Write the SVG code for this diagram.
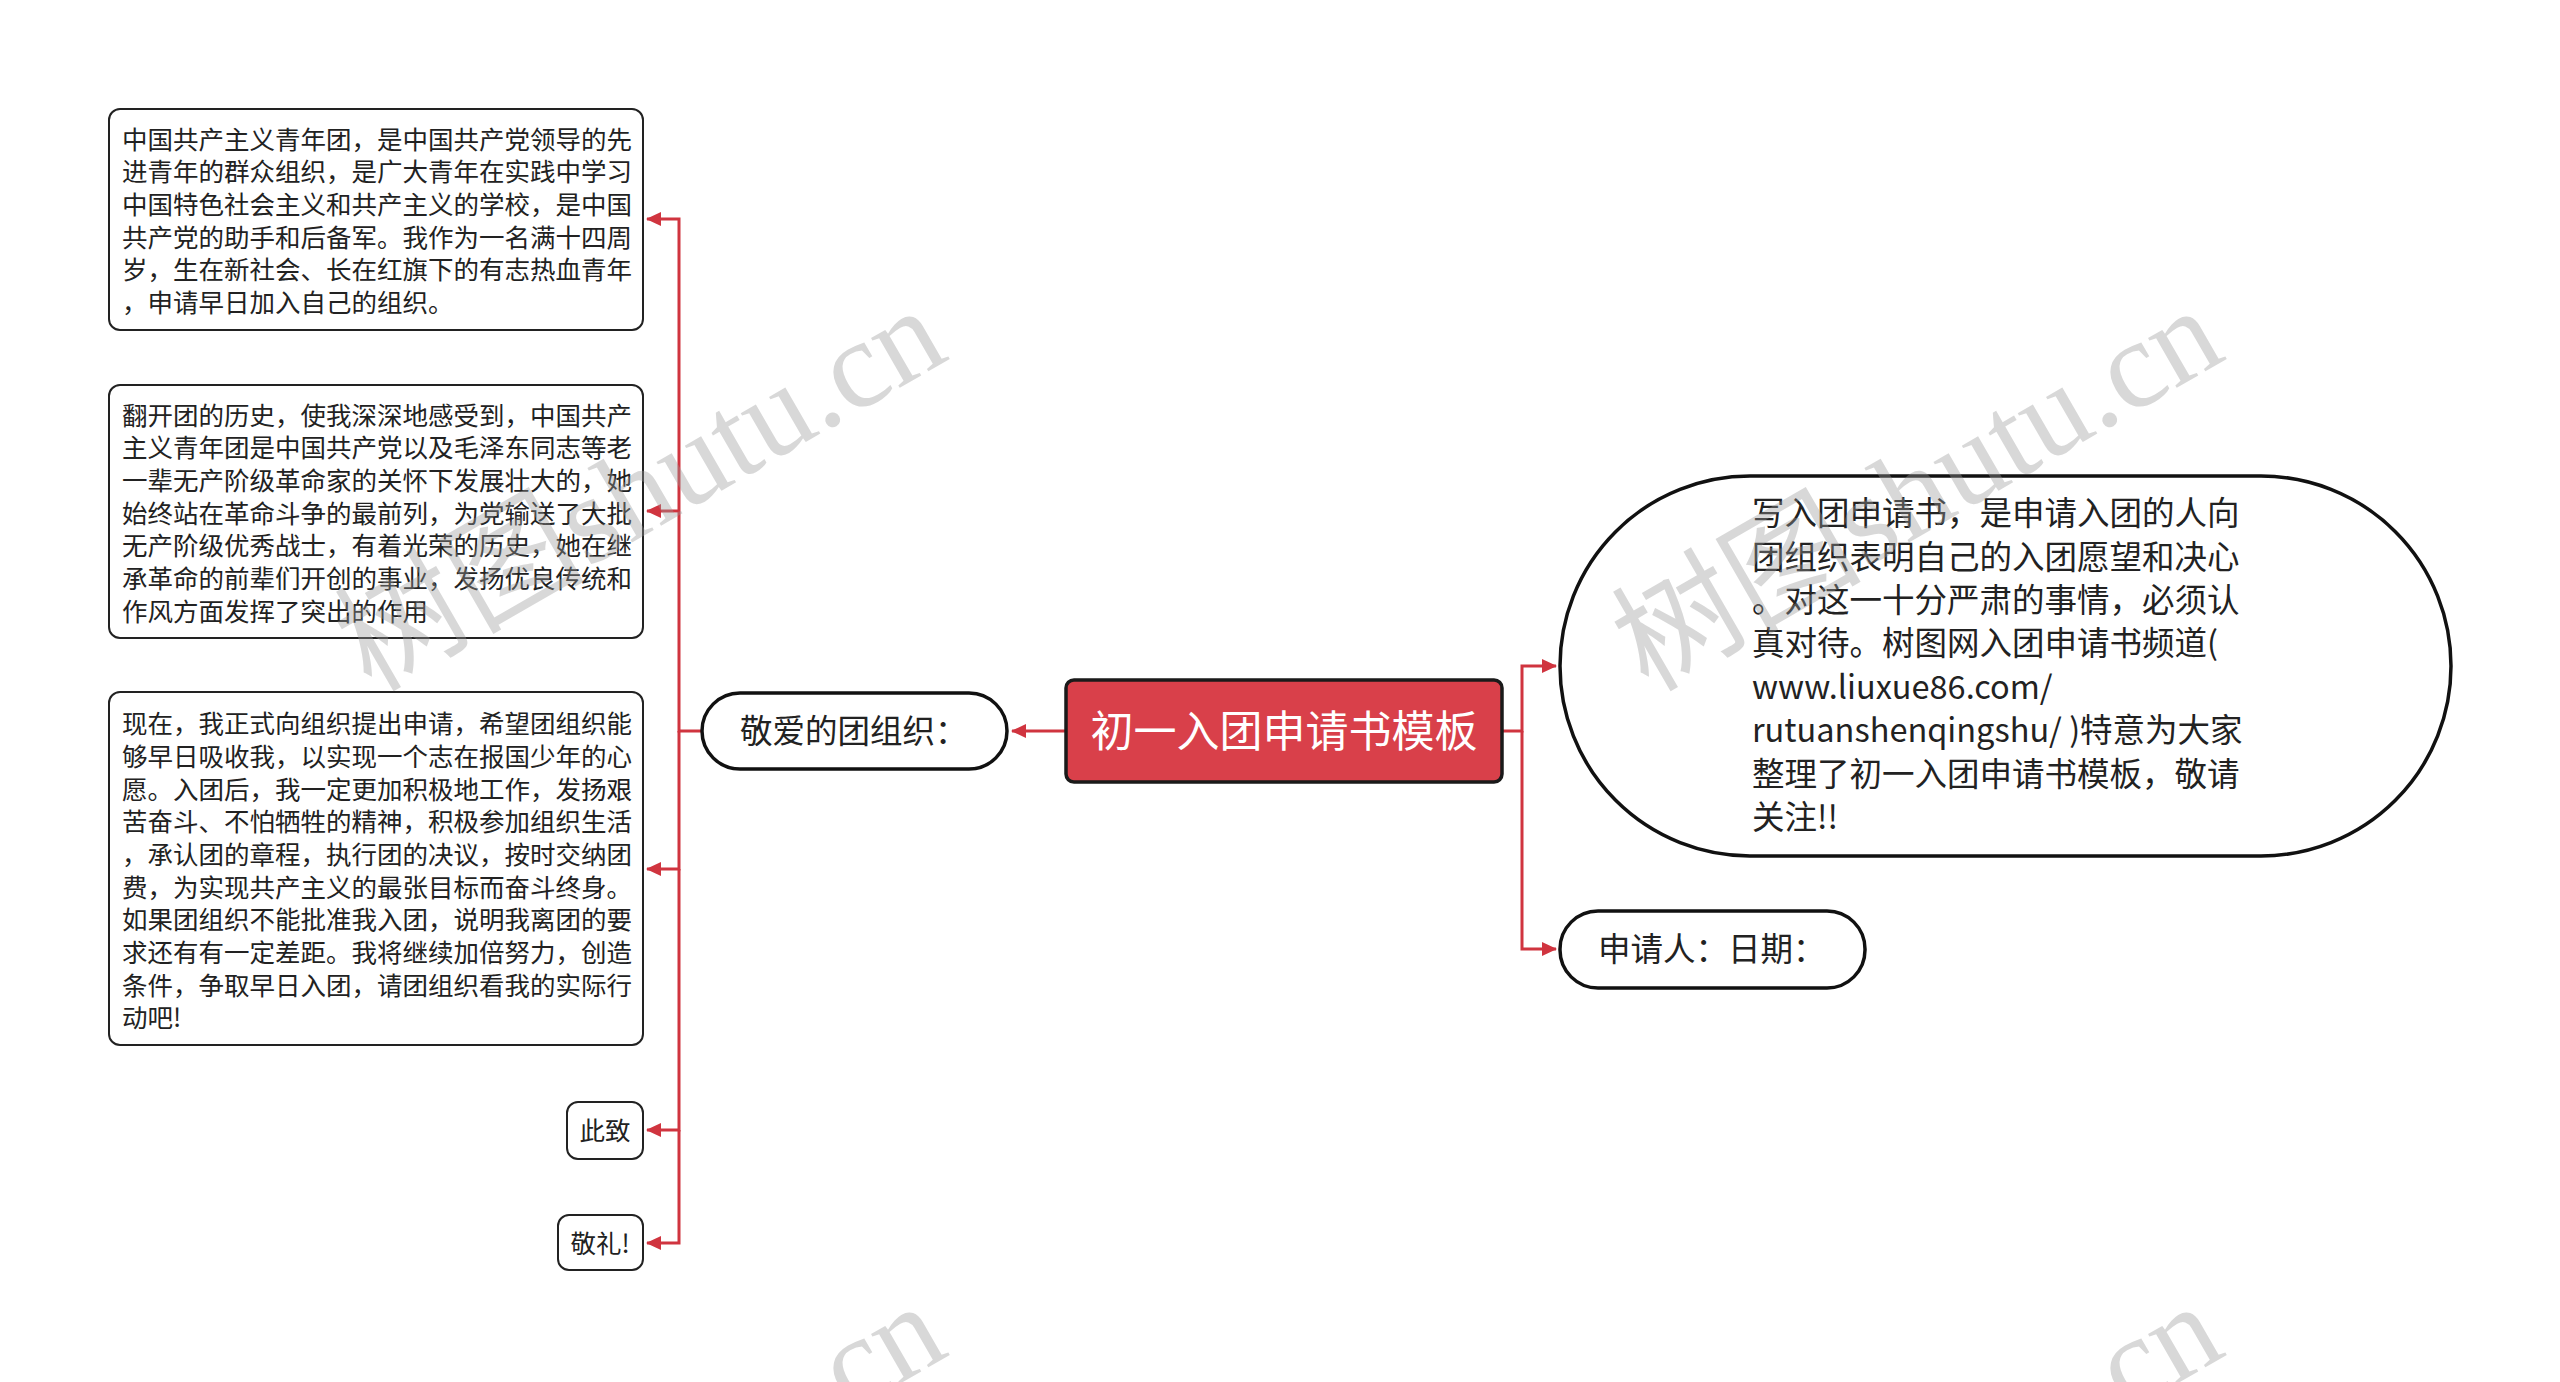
<svg xmlns="http://www.w3.org/2000/svg" width="2560" height="1382" viewBox="0 0 2560 1382">
<style>
.t{font-family:"Noto Sans CJK SC","Liberation Sans",sans-serif;fill:#222}
.sm{font-size:25.5px}
.md{font-size:32.5px}
.box{fill:#fff;stroke:#222;stroke-width:2}
.pill{fill:#fff;stroke:#111;stroke-width:3.5}
.con{fill:none;stroke:#d0343f;stroke-width:3}
.wm{font-family:"Liberation Serif","Noto Sans CJK SC",serif;font-size:125px;fill:#9a9a9a;opacity:0.38}
</style>
<defs>
<marker id="ah" markerUnits="userSpaceOnUse" markerWidth="16" markerHeight="14" refX="14" refY="7" orient="auto">
<path d="M0,0 L15,7 L0,14 Z" fill="#d0343f"/>
</marker>
</defs>
<rect width="2560" height="1382" fill="#fff"/>
<g id="connectors">
<path class="con" d="M1065,731 H1012" marker-end="url(#ah)"/>
<path class="con" d="M702,731 H679 V219 H647" marker-end="url(#ah)"/>
<path class="con" d="M679,511 H647" marker-end="url(#ah)"/>
<path class="con" d="M679,731 V869 H647" marker-end="url(#ah)"/>
<path class="con" d="M679,869 V1130 H647" marker-end="url(#ah)"/>
<path class="con" d="M679,1130 V1243 H647" marker-end="url(#ah)"/>
<path class="con" d="M1502,731 H1522 V666 H1556" marker-end="url(#ah)"/>
<path class="con" d="M1522,731 V949 H1556" marker-end="url(#ah)"/>
</g>
<g id="center">
<rect x="1066" y="680" width="436" height="102" rx="8" fill="#d9404a" stroke="#1a1a1a" stroke-width="3.5"/>
<text class="t" x="1284" y="747" font-size="43" text-anchor="middle" style="fill:#fff">初一入团申请书模板</text>
</g>
<g id="n-dear">
<rect class="pill" x="702" y="693" width="305" height="76" rx="38"/>
<text class="t md" x="740" y="743">敬爱的团组织：</text>
</g>
<g id="n-p1">
<rect class="box" x="109" y="109" width="534" height="221" rx="11"/>
<text class="t sm">
<tspan x="122" y="149">中国共产主义青年团，是中国共产党领导的先</tspan>
<tspan x="122" y="181">进青年的群众组织，是广大青年在实践中学习</tspan>
<tspan x="122" y="214">中国特色社会主义和共产主义的学校，是中国</tspan>
<tspan x="122" y="247">共产党的助手和后备军。我作为一名满十四周</tspan>
<tspan x="122" y="279">岁，生在新社会、长在红旗下的有志热血青年</tspan>
<tspan x="122" y="312">，申请早日加入自己的组织。</tspan>
</text>
</g>
<g id="n-p2">
<rect class="box" x="109" y="385" width="534" height="253" rx="11"/>
<text class="t sm">
<tspan x="122" y="425">翻开团的历史，使我深深地感受到，中国共产</tspan>
<tspan x="122" y="457">主义青年团是中国共产党以及毛泽东同志等老</tspan>
<tspan x="122" y="490">一辈无产阶级革命家的关怀下发展壮大的，她</tspan>
<tspan x="122" y="523">始终站在革命斗争的最前列，为党输送了大批</tspan>
<tspan x="122" y="555">无产阶级优秀战士，有着光荣的历史，她在继</tspan>
<tspan x="122" y="588">承革命的前辈们开创的事业，发扬优良传统和</tspan>
<tspan x="122" y="621">作风方面发挥了突出的作用</tspan>
</text>
</g>
<g id="n-p3">
<rect class="box" x="109" y="692" width="534" height="353" rx="11"/>
<text class="t sm">
<tspan x="122" y="733">现在，我正式向组织提出申请，希望团组织能</tspan>
<tspan x="122" y="766">够早日吸收我，以实现一个志在报国少年的心</tspan>
<tspan x="122" y="799">愿。入团后，我一定更加积极地工作，发扬艰</tspan>
<tspan x="122" y="831">苦奋斗、不怕牺牲的精神，积极参加组织生活</tspan>
<tspan x="122" y="864">，承认团的章程，执行团的决议，按时交纳团</tspan>
<tspan x="122" y="897">费，为实现共产主义的最张目标而奋斗终身。</tspan>
<tspan x="122" y="929">如果团组织不能批准我入团，说明我离团的要</tspan>
<tspan x="122" y="962">求还有有一定差距。我将继续加倍努力，创造</tspan>
<tspan x="122" y="995">条件，争取早日入团，请团组织看我的实际行</tspan>
<tspan x="122" y="1027">动吧!</tspan>
</text>
</g>
<g id="n-cizhi">
<rect class="box" x="567" y="1102" width="76" height="57" rx="11"/>
<text class="t sm" x="605" y="1140" text-anchor="middle">此致</text>
</g>
<g id="n-jingli">
<rect class="box" x="558" y="1215" width="85" height="55" rx="11"/>
<text class="t sm" x="600" y="1253" text-anchor="middle">敬礼!</text>
</g>
<g id="n-intro">
<rect class="pill" x="1560" y="476" width="891" height="380" rx="190"/>
<text class="t md">
<tspan x="1752" y="525">写入团申请书，是申请入团的人向</tspan>
<tspan x="1752" y="569">团组织表明自己的入团愿望和决心</tspan>
<tspan x="1752" y="612">。对这一十分严肃的事情，必须认</tspan>
<tspan x="1752" y="655">真对待。树图网入团申请书频道(</tspan>
<tspan x="1752" y="699">www.liuxue86.com/</tspan>
<tspan x="1752" y="742">rutuanshenqingshu/ )特意为大家</tspan>
<tspan x="1752" y="786">整理了初一入团申请书模板，敬请</tspan>
<tspan x="1752" y="829">关注!!</tspan>
</text>
</g>
<g id="n-sign">
<rect class="pill" x="1560" y="911" width="305" height="77" rx="38"/>
<text class="t md" x="1598" y="961">申请人：日期：</text>
</g>
<g id="watermarks">
<text class="wm" transform="translate(371,693) rotate(-30)">树图shutu.cn</text>
<text class="wm" transform="translate(1648,693) rotate(-30)">树图shutu.cn</text>
<text class="wm" transform="translate(371,1689) rotate(-30)">树图shutu.cn</text>
<text class="wm" transform="translate(1648,1689) rotate(-30)">树图shutu.cn</text>
</g>
</svg>
